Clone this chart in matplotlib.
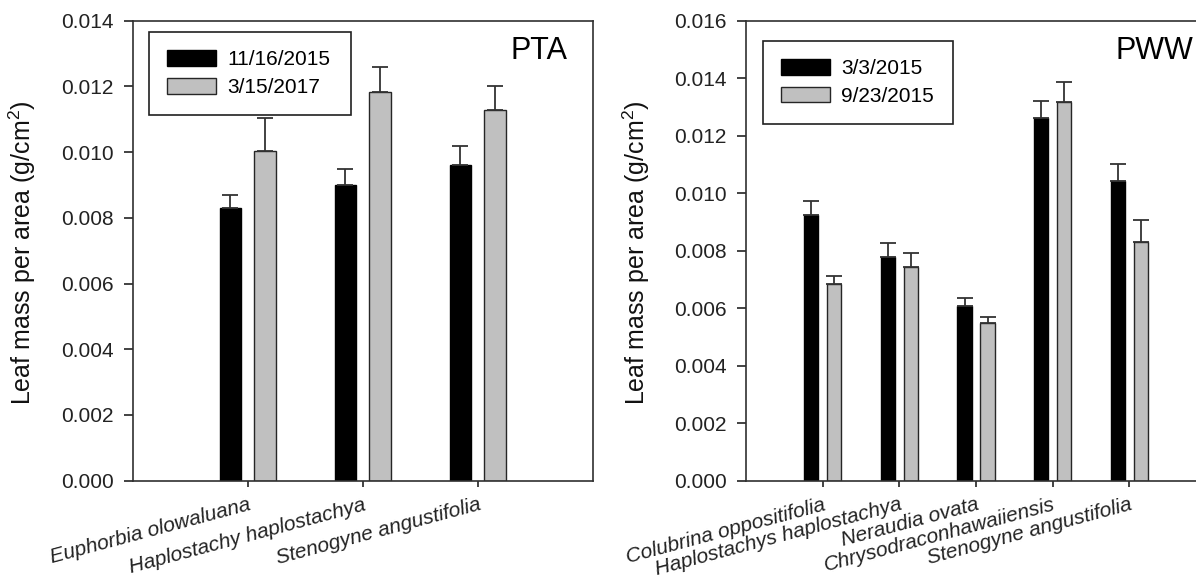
import numpy as np
import matplotlib
matplotlib.use("Agg")
import matplotlib.pyplot as plt

plt.rcParams['font.family'] = ['Liberation Sans', 'DejaVu Sans']
plt.rcParams['mathtext.default'] = 'regular'

# PTA site
pta_species = ["Euphorbia olowaluana", "Haplostachy haplostachya", "Stenogyne angustifolia"]
pta_dates = ["11/16/2015", "3/15/2017"]
pta_first = [0.0083, 0.0090, 0.0096]
pta_first_se = [0.00039, 0.00050, 0.00060]
pta_second = [0.01003, 0.01182, 0.01129]
pta_second_se = [0.0010, 0.00077, 0.00072]

# PWW site
pww_species = ["Colubrina oppositifolia", "Haplostachys haplostachya", "Neraudia ovata",
               "Chrysodraconhawaiiensis", "Stenogyne angustifolia"]
pww_dates = ["3/3/2015", "9/23/2015"]
pww_first = [0.00924, 0.00779, 0.00609, 0.01260, 0.01042]
pww_first_se = [0.00048, 0.00048, 0.00026, 0.00062, 0.00061]
pww_second = [0.00683, 0.00744, 0.00547, 0.01316, 0.00831]
pww_second_se = [0.00030, 0.00047, 0.00022, 0.00072, 0.00076]

BLACK = "#000000"
GRAY = "#c0c0c0"
EDGE = "#262626"
W, H = 1196, 586


def panel(ax, species, dates, v1, e1, v2, e2, ymax, site, leg_box):
    x = np.arange(len(species))
    width = 0.19
    off = 0.15
    zeros = np.zeros(len(x))
    # upper half of the error bar only
    ax.bar(x - off, v1, width, color=BLACK, edgecolor=BLACK, linewidth=1.0,
           yerr=[zeros, e1], capsize=6,
           error_kw=dict(ecolor="#333333", elinewidth=1.3, capthick=1.3),
           label=dates[0], zorder=2)
    ax.bar(x + off, v2, width, color=GRAY, edgecolor=EDGE, linewidth=1.0,
           yerr=[zeros, e2], capsize=6,
           error_kw=dict(ecolor="#333333", elinewidth=1.3, capthick=1.3),
           label=dates[1], zorder=2)

    ax.set_xlim(-1, len(species))
    ax.set_ylim(0, ymax)
    ax.set_yticks(np.arange(0, ymax + 1e-9, 0.002))
    ax.yaxis.set_major_formatter(matplotlib.ticker.FormatStrFormatter('%.3f'))
    ax.set_xticks(x)
    ax.set_xticklabels(species, rotation=15, ha='right', va='top',
                       rotation_mode='anchor', fontstyle='italic', fontsize=15)
    ax.tick_params(axis='y', direction='out', length=6.8, width=1.2, pad=7,
                   labelsize=15, colors='#222222')
    ax.tick_params(axis='x', direction='out', length=4.3, width=1.2, pad=6,
                   colors='#222222')
    for s in ax.spines.values():
        s.set_color('#303030')
        s.set_linewidth(1.2)

    ax.set_ylabel("Leaf mass per area (g/cm$^2$)", fontsize=18, color='#111111')
    ax.yaxis.set_label_coords(-0.205, 0.495)

    ax.text(site[1], 0.916, site[0], transform=ax.transAxes, ha='right',
            va='baseline', fontsize=22)

    leg = ax.legend(loc='upper left', bbox_to_anchor=leg_box, mode='expand',
                    borderaxespad=0, fontsize=15, handlelength=2.34,
                    handleheight=0.77, handletextpad=0.56, labelspacing=0.42,
                    borderpad=0.88, fancybox=False, framealpha=1)
    leg.get_frame().set_edgecolor('#202020')
    leg.get_frame().set_linewidth(1.2)
    for h in leg.legend_handles:
        h.set_linewidth(1.0)


fig = plt.figure(figsize=(W / 100, H / 100), dpi=100)
bottom = 1 - 480.7 / H
ax_h = 460 / H
ax1 = fig.add_axes([132.7 / W, bottom, 460 / W, ax_h])
ax2 = fig.add_axes([746 / W, bottom, 460 / W, ax_h])

panel(ax1, pta_species, pta_dates, pta_first, pta_first_se, pta_second, pta_second_se,
      0.014, ("PTA", 0.9457), (0.0348, 0.9754, 0.4404, 0))
panel(ax2, pww_species, pww_dates, pww_first, pww_first_se, pww_second, pww_second_se,
      0.016, ("PWW", 0.9717), (0.0363, 0.9565, 0.413, 0))

fig.savefig("out.png", dpi=100)
